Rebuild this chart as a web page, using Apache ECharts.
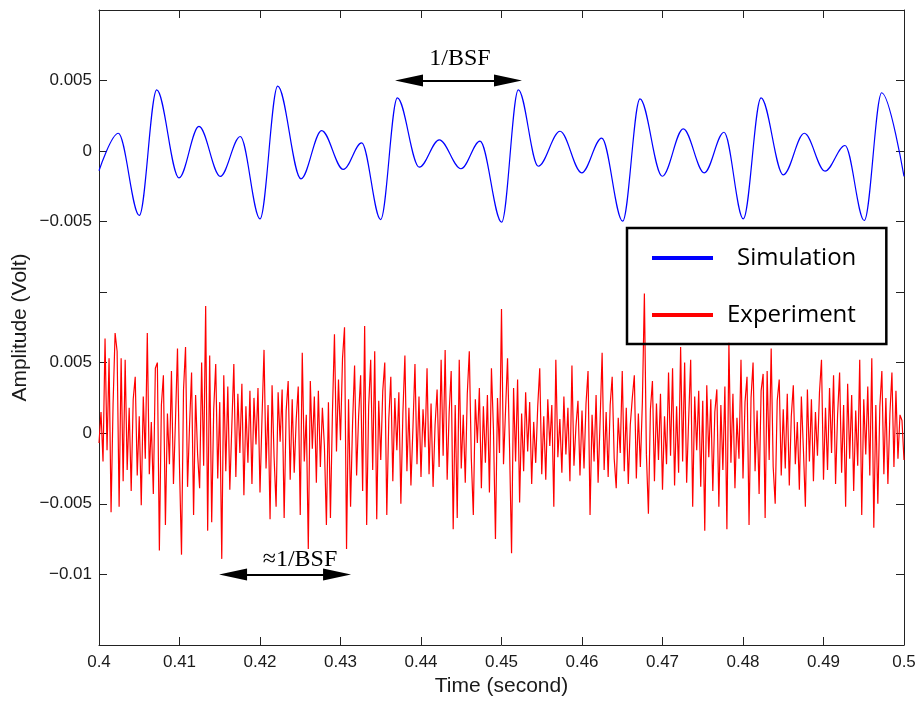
<!DOCTYPE html>
<html><head><meta charset="utf-8">
<script src="https://cdn.jsdelivr.net/npm/echarts@6/dist/echarts.min.js"></script>
<style>html,body{margin:0;padding:0;background:#fff}#chart{width:922px;height:707px}</style>
</head><body><div id="chart"></div>
<script>
// ---------- data ----------
const seriesNames = ['Simulation', 'Experiment'];
const xTickLabels = ['0.4','0.41','0.42','0.43','0.44','0.45','0.46','0.47','0.48','0.49','0.5'];
const simTickValues = [-0.005, 0, 0.005];
const simTickLabels = ['\u22120.005', '0', '0.005'];
const expTickValues = [-0.01, -0.005, 0, 0.005];
const expTickLabels = ['\u22120.01', '\u22120.005', '0', '0.005'];

// simulation: extrema (time in s, amplitude in mV)
const simTime = [0.40000,0.40240,0.40501,0.40717,0.40994,0.41242,0.41507,0.41755,0.42000,0.42220,
  0.42509,0.42766,0.43035,0.43263,0.43499,0.43706,0.43979,0.44227,0.44497,0.44733,
  0.45002,0.45209,0.45457,0.45727,0.45996,0.46245,0.46505,0.46720,0.46997,0.47258,
  0.47519,0.47764,0.48004,0.48224,0.48501,0.48762,0.49019,0.49267,0.49507,0.49723,0.50000];
const simMillivolt = [-1.40,1.26,-4.57,4.34,-1.90,1.74,-1.80,1.03,-4.81,4.60,
  -1.97,1.45,-1.31,0.58,-4.86,3.77,-1.15,0.79,-1.26,0.70,
  -5.05,4.34,-1.08,1.40,-1.55,0.91,-4.98,3.70,-1.79,1.57,
  -1.55,1.33,-4.81,3.77,-1.69,1.26,-1.43,0.39,-4.93,4.13,-1.80];

// experiment: samples every 0.25 ms from 0.4 s (amplitude in mV)
const expStartTime = 0.4;
const expSampleStep = 0.00025;
const expMillivolt = [
  -0.7,1.5,-2.0,6.7,-1.2,5.3,-5.6,2.1,7.1,5.8,-5.2,5.3,-3.4,5.2,-2.6,1.8,-4.1,2.4,4.0,-3.0,
  1.2,-5.1,2.6,-1.8,7.1,-2.9,0.8,-4.3,4.6,5.0,-8.3,2.0,4.1,-6.5,1.4,-2.2,4.4,-3.6,0.9,6.0,
  -2.4,-8.6,3.1,6.1,-3.8,0.6,4.3,-5.8,2.7,-1.5,-3.9,5.0,-2.3,9.0,-6.9,5.5,-6.3,1.7,4.9,-3.2,
  2.2,-8.9,4.1,-2.7,3.3,-4.0,0.5,4.9,-3.1,2.8,-1.4,3.5,-4.4,1.9,-2.1,3.0,-3.6,2.5,-0.8,3.2,
  -4.2,1.1,5.9,-2.5,2.0,-6.1,3.4,-1.7,-5.2,2.9,-0.6,3.1,-6.0,1.6,3.7,-3.3,2.4,-2.8,1.0,3.3,
  -5.8,5.7,-2.0,1.3,-8.2,3.7,-1.1,2.6,-3.5,3.0,-2.4,1.8,-0.9,-6.5,2.2,-6.0,1.5,7.0,-1.3,3.8,
  -0.5,5.3,7.5,-8.2,2.4,-5.2,0.7,4.8,-3.0,1.2,4.1,-4.1,7.6,-6.5,1.9,5.2,-2.6,5.8,-6.1,2.3,
  -1.9,3.0,5.0,-5.8,1.0,4.0,-3.4,2.5,-1.2,2.9,-5.0,1.4,5.5,-2.7,1.8,-3.7,0.4,4.9,-2.2,2.6,
  -3.1,1.7,-1.0,4.6,-2.9,2.1,-3.8,0.6,3.1,-2.4,5.2,-1.6,5.9,-3.3,1.5,4.4,-6.8,2.0,-6.0,5.2,
  -2.5,1.3,-3.5,2.8,5.8,-1.8,-5.8,2.4,-0.7,3.2,-3.9,1.9,-2.1,2.7,-4.2,4.6,0.3,-7.5,2.5,-1.4,
  8.8,-2.2,1.6,5.3,-1.0,-8.5,3.2,-2.0,3.8,-4.9,1.4,-2.7,2.9,-1.3,2.2,-3.6,0.8,-2.1,1.9,4.6,
  -2.9,1.2,-3.3,2.4,-0.9,2.0,-5.2,5.2,-1.7,1.0,-2.8,2.6,-1.5,1.8,-3.4,4.8,-2.3,0.5,2.3,-3.0,
  1.6,-2.5,2.1,4.4,-5.8,1.3,-2.0,2.7,-3.5,0.9,5.7,-2.6,1.5,-3.1,2.0,4.0,-1.8,-3.9,1.1,-1.4,
  4.4,-2.7,1.8,-3.6,0.6,2.5,4.1,-3.2,1.4,-2.4,2.2,9.9,-1.5,-5.7,1.7,3.7,-3.4,2.1,-1.9,2.8,
  -4.0,1.2,-2.2,4.3,-1.6,4.6,-3.7,1.9,-2.8,6.1,-2.0,5.0,-3.5,1.0,5.2,-5.2,2.6,-1.2,3.0,-3.8,
  2.3,-6.9,3.4,-1.7,2.4,-4.1,1.5,3.1,-5.2,2.0,-2.6,3.3,-6.8,6.4,-2.1,2.8,-3.9,1.1,-1.8,5.2,
  -3.2,2.2,4.0,-6.5,2.5,5.0,-2.7,1.6,-4.3,3.0,4.2,-6.0,4.4,-1.9,6.0,-2.4,-5.0,2.3,3.8,-3.0,
  1.7,-2.5,2.8,-3.7,1.2,3.4,-2.2,0.8,-4.0,2.6,-1.1,-5.2,3.1,-2.0,2.4,-3.4,1.5,-1.6,2.9,5.2,
  -3.3,1.8,-2.6,3.2,-1.4,4.1,-3.6,1.3,4.3,-2.8,2.0,-5.2,3.5,-1.8,2.7,-4.1,1.6,-2.3,5.2,-5.8,
  2.4,-1.5,3.3,-3.0,5.3,-6.7,2.0,-5.0,1.9,4.4,-2.9,2.5,-3.6,1.4,4.3,-2.4,3.0,-1.8,1.3,0.9,
  -1.9
];

// annotations (data coordinates)
const topArrowTimes = [0.43851, 0.45081];
const topArrowLevel = 0.005;
const topArrowText = '1/BSF';
const bottomArrowTimes = [0.41665, 0.42957];
const bottomArrowLevel = -0.01;
const bottomArrowText = '\u22481/BSF';

// ---------- build ----------
const simData = simTime.map((t, i) => [t, simMillivolt[i] / 1000]);
const expData = expMillivolt.map((v, i) => [expStartTime + i * expSampleStep, v / 1000]);

const SANS = "'Liberation Sans', Arial, Helvetica, sans-serif";
const AX = '#222';
const labelFrom = (vals, labs) => v => {
  const k = vals.findIndex(t => Math.abs(t - v) < 1e-9);
  return k < 0 ? '' : labs[k];
};
const baseX = (grid, pos, showLabels, extra) => Object.assign({
  type: 'value', gridIndex: grid, position: pos, min: 0.4, max: 0.5, interval: 0.01,
  axisLine: { show: true, onZero: false, lineStyle: { color: AX, width: 1 } },
  axisTick: { show: true, inside: true, length: 8, lineStyle: { color: AX } },
  axisLabel: { show: showLabels, color: '#1a1a1a', fontSize: 17, fontFamily: SANS, margin: 9,
               formatter: (v, i) => xTickLabels[i] },
  splitLine: { show: false }
}, extra || {});
const baseY = (grid, pos, min, max, fmt) => ({
  type: 'value', gridIndex: grid, position: pos, min: min, max: max, interval: 0.005,
  axisLine: { show: true, onZero: false, lineStyle: { color: AX, width: 1 } },
  axisTick: { show: true, inside: true, length: 8, lineStyle: { color: AX } },
  axisLabel: { show: !!fmt, color: '#1a1a1a', fontSize: 17, fontFamily: SANS, margin: 7,
               formatter: fmt || undefined },
  splitLine: { show: false }
});

const arrowLine = (times, level, text, dist, pad) => ({
  silent: true, animation: false,
  symbol: ['triangle', 'triangle'],
  lineStyle: { color: '#000', width: 2, type: 'solid' },
  itemStyle: { color: '#000' },
  label: { show: true, position: 'middle', formatter: text, color: '#000',
           fontFamily: "'Liberation Serif', 'Times New Roman', serif", fontSize: 24,
           distance: dist, padding: pad },
  emphasis: { disabled: true },
  data: [[
    { coord: [times[0], level], symbol: 'triangle', symbolSize: [12, 28] },
    { coord: [times[1], level], symbol: 'triangle', symbolSize: [12, 28] }
  ]]
});

const chart = echarts.init(document.getElementById('chart'), null, { renderer: 'canvas' });
chart.setOption({
  animation: false,
  backgroundColor: '#fff',
  grid: [
    { left: 99, right: 18, top: 10, height: 282 },
    { left: 99, right: 18, top: 292, height: 353 },
    { left: 99, right: 18, top: 10, height: 635 }
  ],
  xAxis: [
    baseX(0, 'top', false),
    baseX(1, 'bottom', true, {
      name: 'Time (second)', nameLocation: 'middle', nameGap: 31,
      nameTextStyle: { fontSize: 21, fontFamily: SANS, color: '#1a1a1a' }
    }),
    { type: 'value', gridIndex: 2, show: false, min: 0, max: 1 }
  ],
  yAxis: [
    baseY(0, 'left', -0.01, 0.01, labelFrom(simTickValues, simTickLabels)),
    baseY(0, 'right', -0.01, 0.01, null),
    baseY(1, 'left', -0.015, 0.01, labelFrom(expTickValues, expTickLabels)),
    baseY(1, 'right', -0.015, 0.01, null),
    { type: 'value', gridIndex: 2, min: 0, max: 1,
      name: 'Amplitude (Volt)', nameLocation: 'middle', nameGap: 68, nameRotate: 90,
      nameTextStyle: { fontSize: 21, fontFamily: SANS, color: '#1a1a1a' },
      axisLine: { show: false }, axisTick: { show: false }, axisLabel: { show: false },
      splitLine: { show: false } }
  ],
  legend: {
    orient: 'vertical', left: 627, top: 228,
    data: seriesNames,
    icon: 'rect', itemWidth: 61, itemHeight: 4, itemGap: 27,
    padding: [15, 30, 14, 25],
    borderColor: '#000', borderWidth: 2.5, backgroundColor: 'transparent',
    selectedMode: false,
    formatter: n => n === 'Simulation' ? '{s|' + n + '}' : '{e|' + n + '}',
    textStyle: {
      fontFamily: "'Open Sans', sans-serif", fontSize: 24, color: '#000', lineHeight: 30,
      rich: {
        s: { fontFamily: "'Open Sans', sans-serif", fontSize: 24, lineHeight: 30, color: '#000', padding: [0, 0, 0, 19] },
        e: { fontFamily: "'Open Sans', sans-serif", fontSize: 24, lineHeight: 30, color: '#000', padding: [0, 0, 0, 9] }
      }
    }
  },
  series: [
    {
      name: seriesNames[0], type: 'line', xAxisIndex: 0, yAxisIndex: 0,
      data: simData, showSymbol: false, smooth: 0.35, smoothMonotone: 'x',
      lineStyle: { color: '#0000ff', width: 1.2 }, itemStyle: { color: '#0000ff' },
      markLine: arrowLine(topArrowTimes, topArrowLevel, topArrowText, 10, [0, 0, 0, 3])
    },
    {
      name: seriesNames[1], type: 'line', xAxisIndex: 1, yAxisIndex: 2,
      data: expData, showSymbol: false, sampling: 'none',
      lineStyle: { color: '#ff0000', width: 1.2 }, itemStyle: { color: '#ff0000' },
      markLine: arrowLine(bottomArrowTimes, bottomArrowLevel, bottomArrowText, 3, [0, 0, 0, 30])
    }
  ]
});
</script></body></html>
